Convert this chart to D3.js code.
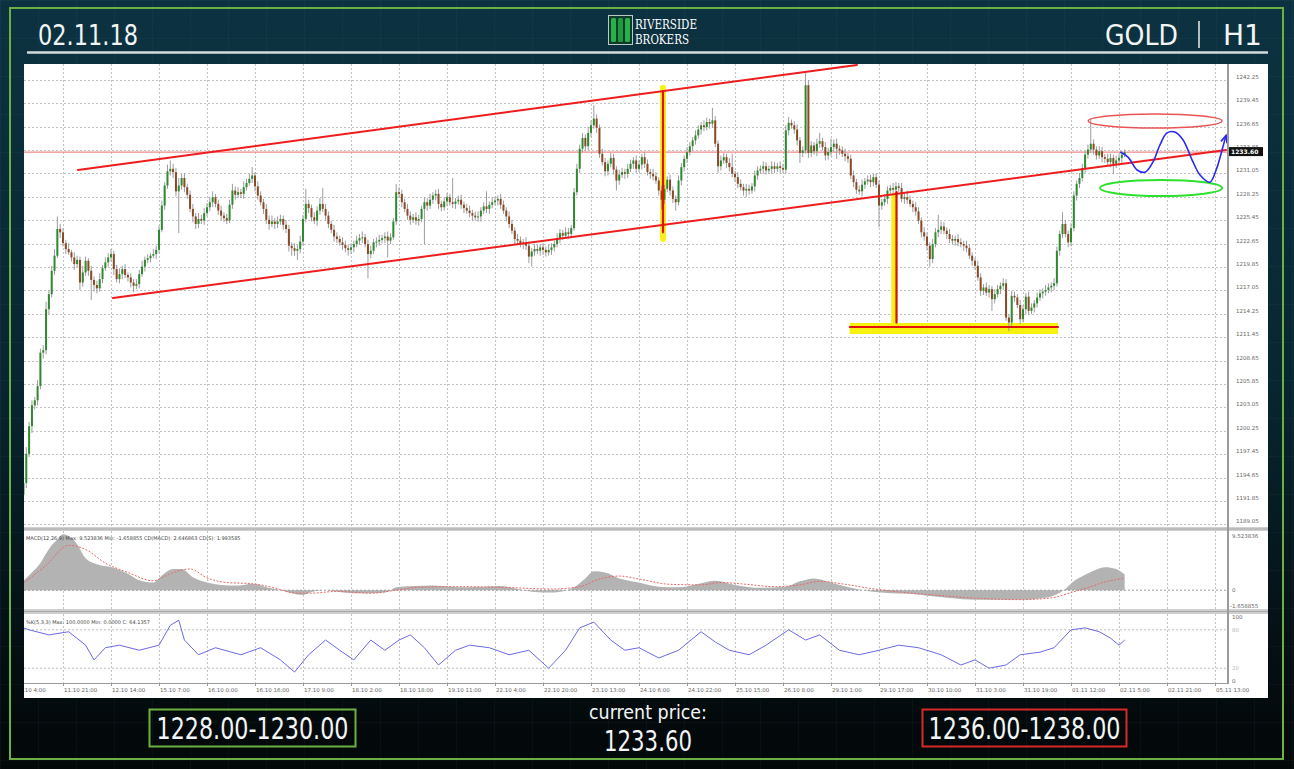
<!DOCTYPE html>
<html><head><meta charset="utf-8">
<script src="https://cdn.jsdelivr.net/npm/d3@7"></script>
<style>html,body{margin:0;padding:0;background:#04131a;overflow:hidden}svg{display:block}</style>
</head><body>
<svg id="c" width="1294" height="769"></svg>
<script>
// ---------------- DATA ----------------
const headerDate = "02.11.18";
const symbol = "GOLD";
const timeframe = "H1";
const brand = ["RIVERSIDE", "BROKERS"];
const supportZone = "1228.00-1230.00";
const resistanceZone = "1236.00-1238.00";
const currentPriceLabel = "current price:";
const currentPrice = 1233.60;

const timeLabels = ["11.10 4:00","11.10 21:00","12.10 14:00","15.10 7:00","16.10 0:00","16.10 16:00","17.10 9:00","18.10 2:00","18.10 18:00","19.10 11:00","22.10 4:00","22.10 20:00","23.10 13:00","24.10 6:00","24.10 22:00","25.10 15:00","26.10 8:00","29.10 1:00","29.10 17:00","30.10 10:00","31.10 3:00","31.10 19:00","01.11 12:00","02.11 5:00","02.11 21:00","05.11 13:00"];
const barsPerLabel = 17;
const priceTicks = [1189.05,1191.85,1194.65,1197.45,1200.25,1203.05,1205.85,1208.65,1211.45,1214.25,1217.05,1219.85,1222.65,1225.45,1228.25,1231.05,1233.85,1236.65,1239.45,1242.25];

const firstBar = 3;
const firstOpen = 1192.6;
const closes = [
1194.0,1197.5,1200.8,1203.3,1203.9,1205.6,1209.6,1209.9,1214.8,1216.6,1219.4,1221.2,1224.4,1224.0,
1222.7,1222.0,1221.6,1221.0,1220.2,1220.7,1218.0,1219.2,1220.6,1219.4,1218.3,1217.7,1217.3,1218.4,1219.7,1220.4,1221.0,
1221.4,1219.6,1218.4,1219.0,1219.6,1218.9,1218.6,1218.0,1217.6,1217.8,1219.0,1219.9,1220.7,1220.9,1221.2,1221.4,1221.9,
1224.3,1227.2,1229.6,1231.3,1231.6,1231.2,1228.9,1229.6,1230.5,1229.4,1228.5,1226.8,1225.9,1225.0,1225.6,1225.4,1226.3,
1227.0,1227.6,1228.2,1227.4,1226.6,1226.0,1225.7,1225.4,1227.3,1229.0,1228.5,1228.8,1228.6,1229.4,1229.9,1230.4,1230.8,
1229.5,1228.4,1227.6,1226.8,1225.5,1225.0,1225.3,1225.0,1225.3,1225.6,1224.9,1224.4,1222.4,1222.1,1221.8,1222.0,1222.9,
1225.6,1227.4,1226.9,1225.8,1225.4,1226.6,1227.4,1226.8,1226.0,1225.0,1224.3,1223.5,1223.2,1222.8,1222.5,1222.1,1221.9,
1222.2,1222.6,1223.0,1223.3,1223.4,1222.6,1221.4,1221.8,1222.8,1222.9,1223.1,1223.3,1223.5,1223.0,1223.4,1225.3,1228.8,
1228.6,1227.6,1226.8,1226.0,1225.5,1225.8,1225.4,1225.6,1226.8,1227.6,1227.2,1227.9,1228.4,1228.6,1227.4,1227.0,1227.7,
1228.2,1227.6,1227.4,1227.7,1227.9,1227.3,1226.9,1226.6,1226.3,1226.0,1225.8,1225.9,1226.6,1227.1,1226.8,1227.3,1227.6,
1227.8,1228.0,1227.3,1226.6,1225.9,1225.0,1224.2,1223.2,1223.0,1222.6,1222.8,1222.4,1221.1,1221.7,1222.0,1221.8,1222.2,
1221.9,1221.6,1221.9,1222.2,1222.6,1223.3,1223.9,1223.6,1224.0,1223.8,1224.5,1228.8,1231.6,1234.0,1235.3,1234.3,1235.9,
1236.8,1237.6,1236.5,1233.4,1232.4,1231.3,1232.2,1232.9,1231.5,1230.2,1230.9,1231.2,1231.0,1231.6,1232.2,1232.6,1231.6,
1232.1,1233.0,1232.2,1231.2,1231.0,1230.7,1230.2,1229.0,1227.9,1229.2,1230.3,1229.0,1228.0,1227.6,1230.2,1231.8,1232.8,
1233.6,1234.3,1235.0,1235.6,1236.3,1236.8,1236.6,1237.2,1237.0,1237.4,1234.6,1231.9,1232.6,1233.0,1232.3,1231.8,1231.0,
1230.6,1229.8,1229.4,1229.0,1229.2,1229.0,1229.5,1230.8,1231.4,1231.6,1231.9,1231.4,1231.6,1231.9,1231.6,1231.9,1231.7,
1231.5,1236.2,1237.1,1236.8,1236.3,1235.0,1233.5,1233.8,1241.6,1233.5,1234.4,1233.7,1234.6,1234.9,1234.2,1233.2,1233.6,
1234.2,1234.6,1234.0,1233.8,1233.4,1233.1,1232.8,1230.8,1230.0,1229.1,1228.9,1229.7,1230.1,1230.3,1230.0,1230.6,1229.7,
1227.2,1227.6,1228.0,1229.0,1229.3,1229.1,1229.5,1229.3,1228.0,1228.2,1227.9,1227.4,1227.0,1226.5,1225.4,1224.0,1223.5,
1222.4,1220.8,1222.6,1224.0,1224.3,1224.7,1224.2,1223.8,1223.2,1223.0,1223.2,1222.8,1222.6,1222.4,1222.1,1221.2,1220.6,
1220.0,1218.6,1217.0,1217.4,1216.8,1217.2,1216.0,1216.6,1217.2,1217.6,1217.9,1213.8,1213.2,1216.4,1216.2,1215.3,1213.6,
1214.8,1216.3,1214.6,1215.0,1215.5,1216.2,1216.7,1216.9,1217.1,1217.4,1217.6,1217.9,1221.8,1223.8,1225.0,1223.8,1222.8,
1224.5,1228.4,1229.8,1230.5,1231.7,1233.3,1233.9,1234.6,1233.9,1233.2,1233.7,1233.0,1232.8,1232.4,1232.9,1232.2,1232.6,
1232.9,1233.3,1233.6];
const wickUp = [
0.4,0.8,0.5,0.6,0.4,0.7,0.5,0.6,0.9,0.5,0.6,0.8,1.5,0.6,
0.5,0.4,0.7,0.3,0.6,0.5,0.4,0.8,0.5,0.3,0.6,0.4,0.5,0.7,0.4,0.6,0.5,
0.6,0.4,0.5,0.7,0.4,0.6,0.3,0.5,0.4,0.6,0.5,0.7,0.4,0.5,0.3,0.6,0.5,
0.5,0.6,0.4,0.8,1.0,0.6,0.5,0.9,0.5,0.6,0.4,0.5,0.6,0.4,0.7,0.5,0.6,
0.5,0.6,0.7,0.4,0.5,0.6,0.4,0.5,0.6,0.8,0.5,0.6,0.4,0.7,0.5,0.6,1.0,
0.4,0.6,0.5,0.4,0.6,0.5,0.7,0.4,0.6,0.5,0.4,0.6,0.5,0.4,0.6,0.5,0.7,
0.5,1.8,0.5,0.4,0.6,0.5,0.7,1.9,0.6,0.5,0.4,0.6,0.5,0.4,0.6,0.5,0.4,
0.5,0.4,0.6,0.5,0.7,0.4,0.5,0.6,0.4,0.5,0.6,0.4,0.5,0.6,0.5,0.4,1.0,
0.6,0.5,0.4,0.6,0.5,0.4,0.6,0.5,0.4,0.6,0.5,0.7,0.4,0.5,0.6,0.4,0.5,
0.5,0.4,2.9,0.4,0.5,0.6,0.4,0.5,0.6,0.4,0.5,0.6,0.4,0.5,1.8,0.4,0.6,
0.5,0.4,0.6,0.5,0.4,0.6,0.5,0.4,0.6,0.5,0.4,0.6,0.5,0.4,0.6,0.5,0.4,
0.5,0.4,0.6,0.5,0.4,0.6,0.5,0.4,0.6,0.5,0.4,0.5,0.6,0.5,0.6,0.4,0.7,
0.6,1.6,0.5,0.4,0.6,0.5,0.4,0.6,0.5,0.4,0.6,0.5,0.4,0.6,0.5,0.4,0.6,
0.5,0.4,0.6,0.5,0.4,0.6,0.5,0.4,0.6,0.5,0.4,0.6,0.5,0.4,0.6,0.5,0.4,
0.6,0.5,0.4,0.6,0.5,0.4,0.6,0.5,0.4,1.5,0.5,0.4,0.6,0.5,0.4,0.6,1.6,
0.4,0.6,0.5,0.4,0.6,0.5,0.4,0.6,0.5,0.4,0.6,0.5,0.4,0.6,0.5,0.4,0.6,
0.5,0.6,0.7,0.4,0.5,0.6,0.4,0.5,1.5,0.6,0.5,0.4,0.6,1.0,0.4,0.6,0.5,
1.0,0.5,0.6,0.4,0.5,0.6,0.4,0.5,0.6,0.4,0.5,0.6,0.4,0.5,0.6,0.4,0.5,
0.5,0.4,0.6,0.5,0.4,0.6,0.5,0.4,0.6,0.5,0.8,0.5,0.4,0.6,0.5,0.4,0.6,
0.5,0.4,0.6,0.5,1.8,0.6,0.5,0.4,0.6,0.5,0.4,0.6,0.5,0.4,0.6,0.5,0.4,
0.4,0.6,0.5,0.4,0.6,0.5,0.4,0.6,0.5,0.4,0.6,0.5,0.4,0.6,0.5,0.4,0.6,
0.5,0.4,0.6,0.5,0.4,0.6,0.5,0.4,0.6,0.5,0.4,0.6,0.5,0.4,1.4,0.5,0.4,
0.6,0.5,0.4,0.6,0.5,0.4,0.6,3.0,0.5,0.4,0.6,0.5,0.4,0.6,0.5,0.4,0.6,
0.5,0.4,0.3];
const wickDn = [
0.5,0.6,0.4,0.8,0.5,0.6,0.4,0.7,0.5,0.6,0.4,0.5,0.3,0.7,
0.4,0.6,0.3,0.5,0.7,0.4,0.9,0.5,0.4,0.6,2.4,0.8,0.6,0.4,0.5,0.3,0.5,
0.5,0.7,0.4,0.5,0.6,0.4,0.5,0.6,0.8,0.4,0.5,0.3,0.6,0.4,0.5,0.3,0.6,
0.4,0.3,0.5,0.4,0.5,0.7,0.6,5.0,0.5,0.6,0.5,0.4,0.7,0.6,0.5,0.4,0.5,
0.4,0.5,0.6,0.4,0.5,0.6,0.5,0.4,0.3,0.5,0.6,0.4,0.5,0.6,0.4,0.3,0.5,
0.6,0.5,0.4,0.6,0.5,0.7,0.4,0.6,0.5,0.4,0.6,0.5,0.7,0.9,0.6,1.1,0.5,
0.5,0.4,0.6,0.5,0.4,0.6,0.5,0.4,0.6,0.5,0.4,0.6,0.5,0.4,0.6,0.5,0.7,
0.5,0.6,0.4,0.5,0.6,0.4,2.9,0.5,0.4,0.6,0.5,0.4,0.6,2.0,0.4,0.3,0.4,
0.5,0.6,0.4,0.5,0.6,0.4,0.5,0.6,0.4,4.2,0.6,0.4,0.5,0.6,0.6,0.5,0.4,
0.6,0.4,0.5,0.6,0.4,0.5,0.6,0.4,0.5,0.6,0.4,0.5,0.6,0.4,0.5,0.6,0.4,
0.4,0.6,0.5,0.4,0.6,0.5,0.4,0.6,0.5,0.4,0.6,0.5,0.8,1.2,0.5,0.4,0.6,
0.6,0.5,0.4,0.6,0.5,0.4,0.6,0.5,0.4,0.6,0.5,0.3,0.4,0.5,0.4,0.6,0.5,
0.5,0.4,0.6,0.5,0.4,0.6,0.5,0.4,0.6,1.2,0.5,0.4,0.6,0.5,0.4,0.6,0.5,
0.4,0.6,0.5,0.4,0.6,0.5,0.4,0.6,1.2,0.5,0.4,0.6,0.5,1.0,0.4,0.6,0.5,
0.5,0.4,0.6,0.5,0.4,0.6,0.5,0.4,0.6,0.5,0.4,0.8,0.5,0.4,0.6,0.5,0.4,
0.6,0.5,0.4,0.6,0.8,0.5,0.4,0.6,0.5,0.4,0.6,0.5,0.4,0.6,0.5,0.4,0.6,
0.4,0.5,0.6,0.4,0.5,0.6,1.2,0.5,0.4,0.6,0.5,0.4,0.6,0.5,0.4,0.6,0.5,
0.5,0.6,1.2,0.5,0.4,0.6,0.5,0.4,0.6,0.5,0.4,0.6,0.5,0.4,0.6,0.5,0.4,
2.6,0.5,0.4,0.6,0.5,0.4,0.6,0.5,0.4,0.6,0.5,0.4,0.6,0.5,0.4,0.6,0.5,
0.6,0.9,0.5,0.4,0.6,0.5,0.4,0.6,0.5,0.4,0.6,0.5,0.4,0.6,0.5,0.4,0.6,
0.5,0.4,0.6,0.5,0.4,0.6,1.4,0.5,0.4,0.6,0.5,0.4,1.0,0.6,0.5,0.4,0.6,
0.4,0.6,0.5,0.4,0.6,0.5,0.4,0.6,0.5,0.4,0.6,0.5,0.4,0.6,0.5,0.4,0.6,
0.5,0.4,0.6,0.5,0.4,0.6,0.5,0.4,0.6,0.5,0.4,0.6,0.5,0.4,0.6,1.2,0.5,
0.4,0.6,0.3];

// MACD (12,26,9) panel
const macdLabel = "MACD(12,26,9) Max: 9.523836 Min: -1.658855 CD(MACD): 2.646863 CD(S): 1.993585";
const macdMax = 9.523836, macdMin = -1.658855;
const macdBars = [3,6,9,11,13,15,17,19,22,25,29,35,40,44,49,52,56,59,63,68,73,79,84,89,94,98,102,105,110,115,120,126,132,135,141,148,154,160,166,172,178,184,190,195,198,202,205,209,214,221,228,235,243,248,255,264,273,278,283,289,296,303,310,317,324,331,340,349,356,363,368,372,375,379,383,386,390,393];
const macdHist = [1.6,3.0,4.6,6.2,7.6,8.6,9.5,9.2,7.8,5.4,4.4,3.8,2.8,1.7,1.3,2.5,3.6,3.6,2.2,1.3,0.9,0.8,1.1,0.5,0.0,-0.5,-0.8,-0.3,0.0,-0.3,-0.5,-0.5,-0.3,0.5,0.7,0.8,0.6,0.5,0.6,0.7,0.2,-0.3,-0.4,-0.1,0.5,2.0,3.2,3.0,2.0,1.3,0.6,0.5,1.2,1.6,0.9,0.4,0.6,1.5,2.0,1.3,0.4,-0.2,-0.5,-0.6,-1.0,-1.3,-1.6,-1.6,-1.6,-1.4,-0.9,0.2,1.5,2.6,3.5,3.9,3.6,2.65];
const signalBars = [3,11,19,25,32,40,49,55,62,68,75,84,91,100,105,114,126,135,143,154,172,190,200,207,214,221,232,243,250,259,269,278,285,294,303,313,328,342,356,367,374,381,386,390,393];
const signalVals = [1.2,4.2,7.6,6.9,4.6,3.0,1.6,2.8,3.6,2.1,1.3,1.1,0.5,-0.5,-0.5,-0.2,-0.5,0.0,0.5,0.6,0.5,0.2,0.6,1.9,2.4,1.9,1.0,0.9,1.3,1.0,0.6,0.9,1.5,1.0,0.3,-0.3,-0.9,-1.4,-1.6,-1.3,-0.4,0.6,1.4,1.8,2.0];

// Oscillator panel
const oscLabel = "%K(5,3,3) Max: 100.0000 Min: 0.0000 C: 64.1357";
const oscLevels = [80, 20];
const oscBars = [3,5,12,19,25,28,32,37,44,51,55,58,60,65,71,80,87,94,99,104,110,115,120,126,131,136,140,145,150,156,161,168,175,182,189,195,200,205,211,216,221,228,235,243,248,253,260,266,274,280,285,292,299,306,313,320,328,335,340,345,351,356,363,368,374,379,384,388,391,393];
const oscVals = [83,80,72,77,56,33,52,56,48,56,87,95,64,41,52,41,52,33,14,41,64,48,33,64,48,64,72,52,25,48,56,52,41,48,20,48,83,92,64,48,52,36,48,77,61,48,41,56,80,64,72,48,41,48,56,52,41,25,33,20,25,41,45,52,80,83,77,67,56,64];

// Annotations, in (bar, price)
const channelUpper = [[22.3,1231.46],[298.2,1244.02]];
const channelLower = [[34.7,1216.14],[428.9,1233.85]];
const markV1 = [[229.5,1240.9],[229.5,1224.0]];
const markV2 = [[312.2,1228.8],[312.2,1213.2]];
const markH = [[295.7,1212.67],[369.4,1212.67]];
const hiliteV1 = [[229.5,1241.3],[229.5,1223.2]];
const hiliteV2 = [[311.4,1228.4],[311.4,1213.0]];
const hiliteH = [[295.6,1212.5],[369.4,1212.5]];
const redEllipse = {bar:403.8, price:1237.32, rBars:23.7, rPrice:0.84};
const greenEllipse = {bar:405.9, price:1229.3, rBars:21.6, rPrice:0.96};
const forecastWave = [[391.4,1233.61],[394.2,1233.0],[397.4,1231.46],[400.2,1231.2],[403.0,1232.4],[405.5,1234.45],[408.0,1235.9],[410.8,1236.0],[413.7,1235.05],[416.9,1232.65],[419.7,1230.86],[423.2,1230.0],[425.4,1231.46],[427.5,1233.85],[428.9,1235.6]];

// ---------------- DRAW ----------------
const svg = d3.select('#c');
const defs = svg.append('defs');
const bg = defs.append('linearGradient').attr('id','bg').attr('x1',0).attr('y1',0).attr('x2',0).attr('y2',1);
bg.append('stop').attr('offset','0%').attr('stop-color','#0c3241');
bg.append('stop').attr('offset','50%').attr('stop-color','#082630');
bg.append('stop').attr('offset','88%').attr('stop-color','#040d10');
bg.append('stop').attr('offset','100%').attr('stop-color','#030708');
const pat = defs.append('pattern').attr('id','grid').attr('width',38).attr('height',38).attr('patternUnits','userSpaceOnUse');
pat.append('path').attr('d','M38 0 L0 0 0 38').attr('fill','none').attr('stroke','rgba(150,200,210,0.07)').attr('stroke-width',1);

svg.append('rect').attr('width',1294).attr('height',769).attr('fill','url(#bg)');
svg.append('rect').attr('width',1294).attr('height',769).attr('fill','url(#grid)');
svg.append('rect').attr('x',10).attr('y',8).attr('width',1273).attr('height',751).attr('fill','none').attr('stroke','#6cb043').attr('stroke-width',2);

const FONT = '"DejaVu Sans","Open Sans",sans-serif';
const ctext = (g,xx,yy,size,len,str,anchor)=>g.append('text').attr('x',xx).attr('y',yy)
  .attr('text-anchor',anchor||'start').attr('fill','#f2f5f5').attr('font-family',FONT).attr('font-size',size)
  .attr('textLength',len).attr('lengthAdjust','spacingAndGlyphs').text(str);

// header
ctext(svg,38,45,29,100,headerDate);
ctext(svg,1105,45,29,73,symbol);
svg.append('line').attr('x1',1199).attr('x2',1199).attr('y1',21).attr('y2',48).attr('stroke','#e8eeee').attr('stroke-width',1.5);
ctext(svg,1223,45,29,39,timeframe);
svg.append('line').attr('x1',27).attr('x2',1268).attr('y1',52.5).attr('y2',52.5).attr('stroke','#d3dcdc').attr('stroke-width',2.5);
// logo
const logo = svg.append('g');
logo.append('rect').attr('x',608.5).attr('y',15.5).attr('width',24).attr('height',29).attr('fill','#0d3a2a').attr('stroke','#b9c9c4').attr('stroke-width',1);
[611,618,625].forEach((lx,k)=>logo.append('rect').attr('x',lx).attr('y',18).attr('width',5).attr('height',24).attr('rx',1.5).attr('fill',k===1?'#1f9a3e':'#27b14a'));
logo.append('text').attr('x',635).attr('y',29).attr('fill','#ffffff').attr('font-family','"DejaVu Serif","Liberation Serif",serif').attr('font-size',12).attr('textLength',62).attr('lengthAdjust','spacingAndGlyphs').text(brand[0]);
logo.append('text').attr('x',635).attr('y',44).attr('fill','#ffffff').attr('font-family','"DejaVu Serif","Liberation Serif",serif').attr('font-size',12).attr('textLength',54).attr('lengthAdjust','spacingAndGlyphs').text(brand[1]);

// chart white area
const L = 24, R = 1227, PT = 64, PB = 527, MT = 531, MB = 610, ST = 614, SB = 683;
svg.append('rect').attr('x',24).attr('y',64).attr('width',1244).attr('height',634).attr('fill','#ffffff');

const x = d3.scaleLinear().domain([0, barsPerLabel*(timeLabels.length-1)]).range([15,1215]);
const y = d3.scaleLinear().domain([1188.74,1244.14]).range([PB,PT]);
const yM = d3.scaleLinear().domain([macdMin, macdMax]).range([600,534]);
const yS = d3.scaleLinear().domain([0,100]).range([681,617]);

const clip = (id,x0,y0,x1,y1)=>defs.append('clipPath').attr('id',id).append('rect').attr('x',x0).attr('y',y0).attr('width',x1-x0).attr('height',y1-y0);
clip('cp',L,PT,R,PB); clip('cm',L,MT,R,MB); clip('cs',L,ST,R,SB); clip('ct',L,683,1268,698);

const tickIdx = timeLabels.map((t,k)=>k*barsPerLabel);
const GRID = '#c2c2c2';
[['cp',PT,PB],['cm',MT,MB],['cs',ST,SB]].forEach(([cid,t,b])=>{
  svg.append('g').attr('clip-path',`url(#${cid})`).selectAll('line').data(tickIdx).join('line')
   .attr('x1',d=>Math.round(x(d))+0.5).attr('x2',d=>Math.round(x(d))+0.5).attr('y1',t).attr('y2',b)
   .attr('stroke',GRID).attr('stroke-dasharray','2,2');
});
svg.append('g').attr('clip-path','url(#cp)').selectAll('line').data(priceTicks).join('line')
  .attr('x1',L).attr('x2',R).attr('y1',d=>Math.round(y(d))+0.5).attr('y2',d=>Math.round(y(d))+0.5)
  .attr('stroke',GRID).attr('stroke-dasharray','2,2');

const P = svg.append('g').attr('clip-path','url(#cp)');
const pt = d=>[x(d[0]),y(d[1])];
const seg = (g,pts,color,w,op,cap)=>g.append('line').attr('x1',pt(pts[0])[0]).attr('y1',pt(pts[0])[1]).attr('x2',pt(pts[1])[0]).attr('y2',pt(pts[1])[1]).attr('stroke',color).attr('stroke-width',w).attr('stroke-opacity',op||1).attr('stroke-linecap',cap||'round');

P.append('line').attr('x1',L).attr('x2',R).attr('y1',y(currentPrice)).attr('y2',y(currentPrice)).attr('stroke','#f08a8a').attr('stroke-width',1.2);
seg(P,hiliteV1,'#f6f000',6,0.9);
seg(P,hiliteV2,'#f6f000',6,0.9);
seg(P,hiliteH,'#f6f000',11,0.95,'butt');

const candles = closes.map((c,k)=>{
  const o = k===0 ? firstOpen : closes[k-1];
  return {i:firstBar+k, o, c, h:Math.max(o,c)+(wickUp[k]||0), l:Math.min(o,c)-(wickDn[k]||0)};
});
const cg = P.append('g');
cg.selectAll('line').data(candles).join('line')
  .attr('x1',d=>x(d.i)).attr('x2',d=>x(d.i)).attr('y1',d=>y(d.h)).attr('y2',d=>y(d.l))
  .attr('stroke','#9c9c9c').attr('stroke-width',1);
cg.selectAll('rect').data(candles).join('rect')
  .attr('x',d=>x(d.i)-1).attr('width',2)
  .attr('y',d=>y(Math.max(d.o,d.c))).attr('height',d=>Math.max(1,Math.abs(y(d.o)-y(d.c))))
  .attr('fill',d=>d.c>=d.o?'#2f8a2f':'#8a4a26');

seg(P,channelUpper,'#ee1c1c',2);
seg(P,channelLower,'#ee1c1c',2);
seg(P,markV1,'#e31010',2.2);
seg(P,markV2,'#d01010',2.2);
seg(P,markH,'#e31010',2.2);
P.append('ellipse').attr('cx',x(redEllipse.bar)).attr('cy',y(redEllipse.price))
  .attr('rx',x(redEllipse.bar+redEllipse.rBars)-x(redEllipse.bar)).attr('ry',y(redEllipse.price-redEllipse.rPrice)-y(redEllipse.price))
  .attr('fill','none').attr('stroke','#e85555').attr('stroke-width',1.5);
P.append('ellipse').attr('cx',x(greenEllipse.bar)).attr('cy',y(greenEllipse.price))
  .attr('rx',x(greenEllipse.bar+greenEllipse.rBars)-x(greenEllipse.bar)).attr('ry',y(greenEllipse.price-greenEllipse.rPrice)-y(greenEllipse.price))
  .attr('fill','none').attr('stroke','#2ee02e').attr('stroke-width',2);
const wave = d3.line().x(d=>x(d[0])).y(d=>y(d[1])).curve(d3.curveCatmullRom);
P.append('path').attr('d',wave(forecastWave)).attr('fill','none').attr('stroke','#2a2af0').attr('stroke-width',1.6);
const tip = forecastWave[forecastWave.length-1];
P.append('path').attr('d',`M${x(tip[0])-5},${y(tip[1])+6} L${x(tip[0])},${y(tip[1])} L${x(tip[0])+1},${y(tip[1])+8}`).attr('fill','none').attr('stroke','#2a2af0').attr('stroke-width',1.6);

svg.append('rect').attr('x',24).attr('y',527).attr('width',1244).attr('height',4).attr('fill','#cfcfcf');
svg.append('line').attr('x1',24).attr('x2',1268).attr('y1',529).attr('y2',529).attr('stroke','#a8a8a8');
svg.append('rect').attr('x',24).attr('y',609).attr('width',1244).attr('height',5).attr('fill','#cfcfcf');
svg.append('line').attr('x1',24).attr('x2',1268).attr('y1',611.5).attr('y2',611.5).attr('stroke','#a8a8a8');
svg.append('line').attr('x1',1228).attr('x2',1228).attr('y1',64).attr('y2',684).attr('stroke','#9a9a9a').attr('stroke-width',2);
svg.append('line').attr('x1',24).attr('x2',1229).attr('y1',683.5).attr('y2',683.5).attr('stroke','#9a9a9a');

const LBL = '"DejaVu Sans",sans-serif';
svg.append('g').selectAll('text').data(priceTicks).join('text')
  .attr('x',1236).attr('y',d=>y(d)-1).attr('fill','#666').attr('font-family',LBL).attr('font-size',5.5).text(d=>d.toFixed(2));
svg.append('rect').attr('x',1229).attr('y',y(currentPrice)-5).attr('width',34).attr('height',9).attr('fill','#111');
svg.append('text').attr('x',1231).attr('y',y(currentPrice)+2).attr('fill','#fff').attr('font-family',LBL).attr('font-size',6).attr('font-weight','bold').text(currentPrice.toFixed(2));

const MG = svg.append('g').attr('clip-path','url(#cm)');
const macdPts = macdBars.map((b,k)=>[b,macdHist[k]]);
MG.append('path').attr('d',d3.area().x(d=>x(d[0])).y0(yM(0)).y1(d=>yM(d[1])).curve(d3.curveMonotoneX)(macdPts)).attr('fill','#b3b3b3');
MG.append('line').attr('x1',L).attr('x2',R).attr('y1',yM(0)).attr('y2',yM(0)).attr('stroke','#999').attr('stroke-dasharray','2,2');
const sigPts = signalBars.map((b,k)=>[b,signalVals[k]]);
MG.append('path').attr('d',d3.line().x(d=>x(d[0])).y(d=>yM(d[1])).curve(d3.curveMonotoneX)(sigPts)).attr('fill','none').attr('stroke','#e86a6a').attr('stroke-width',1).attr('stroke-dasharray','2,1.5');
svg.append('text').attr('x',26).attr('y',540).attr('fill','#444').attr('font-family',LBL).attr('font-size',5).text(macdLabel);
svg.append('text').attr('x',1232).attr('y',538).attr('fill','#666').attr('font-family',LBL).attr('font-size',5.5).text(macdMax.toFixed(6));
svg.append('text').attr('x',1232).attr('y',yM(0)+2).attr('fill','#666').attr('font-family',LBL).attr('font-size',5.5).text('0');
svg.append('text').attr('x',1230).attr('y',608).attr('fill','#666').attr('font-family',LBL).attr('font-size',5.5).text(macdMin.toFixed(6));

const SG = svg.append('g').attr('clip-path','url(#cs)');
SG.selectAll('line').data(oscLevels).join('line').attr('x1',L).attr('x2',R).attr('y1',d=>yS(d)).attr('y2',d=>yS(d)).attr('stroke','#bbb').attr('stroke-dasharray','2,2');
const oscPts = oscBars.map((b,k)=>[b,oscVals[k]]);
SG.append('path').attr('d',d3.line().x(d=>x(d[0])).y(d=>yS(d[1]))(oscPts)).attr('fill','none').attr('stroke','#6a6ae6').attr('stroke-width',1);
svg.append('text').attr('x',26).attr('y',624).attr('fill','#444').attr('font-family',LBL).attr('font-size',5).text(oscLabel);
[[100,'#666'],[80,'#bbb'],[20,'#bbb'],[0,'#666']].forEach(([v,c])=>svg.append('text').attr('x',1232).attr('y',yS(v)+2).attr('fill',c).attr('font-family',LBL).attr('font-size',5.5).text(v));

const TG = svg.append('g').attr('clip-path','url(#ct)');
TG.selectAll('text').data(timeLabels).join('text')
  .attr('x',(d,k)=>x(tickIdx[k])+1).attr('y',692).attr('fill','#666').attr('font-family',LBL).attr('font-size',5.5).text(d=>d);
TG.selectAll('line').data(tickIdx).join('line').attr('x1',d=>Math.round(x(d))+0.5).attr('x2',d=>Math.round(x(d))+0.5).attr('y1',683).attr('y2',686).attr('stroke','#999');

// footer
svg.append('rect').attr('x',149.5).attr('y',709.5).attr('width',206).attr('height',37).attr('fill','none').attr('stroke','#6cb043').attr('stroke-width',2);
ctext(svg,252.5,739,30,192,supportZone,'middle');
svg.append('rect').attr('x',922.5).attr('y',709.5).attr('width',204).attr('height',37).attr('fill','none').attr('stroke','#d42a2a').attr('stroke-width',2);
ctext(svg,1024.5,739,30,192,resistanceZone,'middle');
ctext(svg,648,719,19,118,currentPriceLabel,'middle');
ctext(svg,648,751,28,88,currentPrice.toFixed(2),'middle');
</script>
</body></html>
